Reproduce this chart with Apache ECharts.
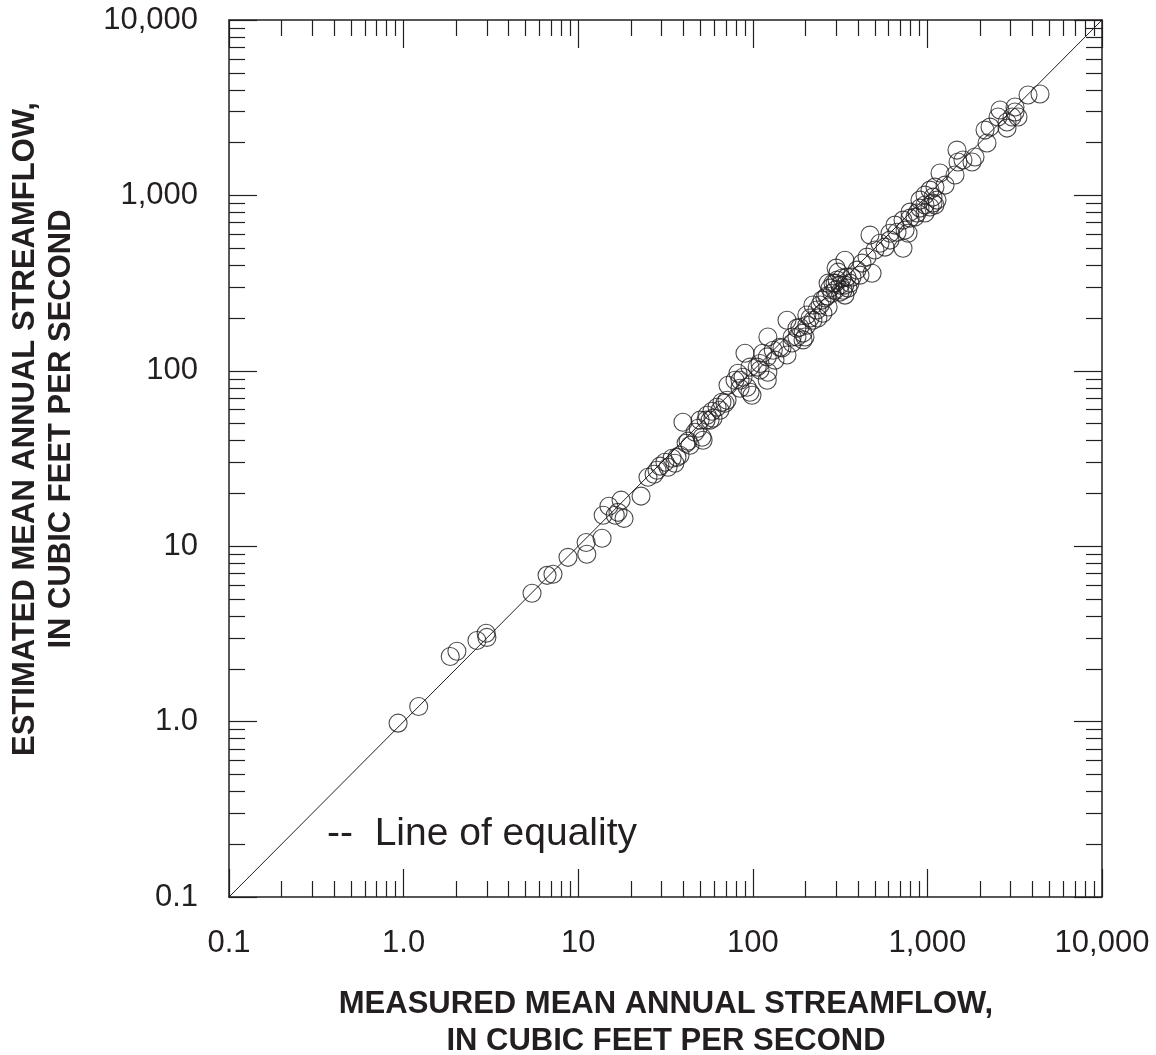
<!DOCTYPE html>
<html>
<head>
<meta charset="utf-8">
<script src="https://cdn.jsdelivr.net/npm/echarts@6/dist/echarts.min.js"></script>
<style>
  html, body { margin: 0; padding: 0; background: #ffffff; }
  #chart { width: 1156px; height: 1055px; }
</style>
</head>
<body>
<div id="chart"></div>
<script>
// Measured (x) and estimated (y) mean annual streamflow, cubic feet per second
var measured = [
  0.93, 1.22, 1.85, 2.02, 2.63, 2.97, 3.0, 5.44, 6.63, 7.17,
  8.74, 11.1, 11.2, 13.7, 13.9, 15.0, 16.3, 17.6, 18.3, 16.9,
  22.9, 25.1, 27.2, 28.3, 31.4, 32.7, 34.5, 35.8, 36.8, 39.8,
  41.5, 42.6, 43.7, 46.7, 49.9, 51.2, 51.9, 54.7, 56.9, 58.4,
  62.4, 64.9, 66.6, 71.2, 69.3, 72.1, 79.1, 82.3, 87.9, 84.5,
  92.6, 96.4, 98.9, 90.2, 96.4, 110, 114, 121, 122, 122,
  106, 121, 131, 134, 143, 147, 157, 157, 168, 168,
  179, 179, 194, 194, 204, 186, 199, 204, 221, 221,
  233, 249, 252, 270, 284, 288, 304, 316, 329, 308,
  337, 346, 360, 370, 395, 422, 451, 482, 469, 501,
  535, 572, 611, 611, 670, 725, 745, 775, 725, 795,
  795, 849, 872, 907, 969, 969, 1035, 1035, 1077, 1077,
  1135, 1105, 1181, 1439, 1477, 1497, 1599, 1801, 1874, 2195,
  2138, 2284, 2538, 2605, 2858, 2858, 3053, 3175, 3175, 3303,
  3769, 4416, 277, 296, 324, 266, 337, 300, 213, 236,
  48.6, 59.2, 29.4, 38.3, 259, 351, 411, 652, 907, 1262,
  296, 316, 270, 337, 243, 1105, 969, 84.5, 110, 54
];
var estimated = [
  0.98, 1.22, 2.35, 2.52, 2.9, 3.19, 3.02, 5.39, 6.82, 6.92,
  8.64, 10.5, 9.0, 11.1, 15.0, 16.9, 15.0, 18.3, 14.4, 15.6,
  19.3, 24.7, 25.7, 27.1, 30.1, 28.2, 31.7, 29.7, 32.1, 50.9,
  38.6, 39.7, 37.6, 44.6, 52.3, 41.8, 40.2, 55.8, 52.3, 58.8,
  62.0, 59.6, 66.2, 68.0, 65.3, 82.8, 88.4, 96.9, 91.9, 79.6,
  80.6, 75.5, 72.6, 126, 105, 110, 126, 88.4, 98.2, 156,
  105, 120, 131, 115, 136, 135, 123, 194, 144, 156,
  175, 156, 150, 164, 182, 177, 156, 208, 194, 237,
  222, 253, 213, 231, 277, 316, 329, 308, 288, 365,
  427, 342, 316, 342, 375, 411, 445, 360, 594, 488,
  534, 507, 556, 609, 617, 500, 634, 609, 723, 742,
  803, 752, 793, 846, 793, 1004, 858, 1072, 904, 978,
  940, 1115, 1341, 1306, 1813, 1549, 1590, 1549, 1654, 1988,
  2357, 2452, 2798, 3067, 2420, 2619, 2798, 2987, 3189, 2798,
  3734, 3784, 296, 288, 337, 267, 270, 385, 200, 200,
  47.0, 53.7, 28.6, 33.0, 260, 296, 351, 677, 940, 1145,
  316, 281, 316, 308, 237, 881, 881, 88.4, 101, 52.3
];
// Line of equality end points
var equalityLine = [0.1, 10000];
// Major tick values and their labels
var majorTicks = [0.1, 1, 10, 100, 1000, 10000];
var tickLabels = ['0.1', '1.0', '10', '100', '1,000', '10,000'];
// Minor (log) ticks 2..9 in each decade
var minorMultipliers = [2, 3, 4, 5, 6, 7, 8, 9];
var decades = [0.1, 1, 10, 100, 1000];

var xTitle = 'MEASURED MEAN ANNUAL STREAMFLOW,\nIN CUBIC FEET PER SECOND';
var yTitle = 'ESTIMATED MEAN ANNUAL STREAMFLOW,\nIN CUBIC FEET PER SECOND';
var legendText = '--  Line of equality';

var minorTicks = [];
decades.forEach(function (d) {
  minorMultipliers.forEach(function (m) { minorTicks.push(+(d * m).toPrecision(6)); });
});

var INK = '#231f20';
var FONT = '"Liberation Sans", Arial, Helvetica, sans-serif';

function labelFor(v) {
  for (var i = 0; i < majorTicks.length; i++) {
    if (Math.abs(Math.log10(v) - Math.log10(majorTicks[i])) < 1e-6) return tickLabels[i];
  }
  return '';
}

function makeAxis(dim, position, major, showLabel, showLine) {
  return {
    type: 'log',
    logBase: 10,
    min: 0.1,
    max: 10000,
    position: position,
    gridIndex: 0,
    splitLine: { show: false },
    minorTick: { show: false },
    minorSplitLine: { show: false },
    axisLine: { show: showLine, onZero: false, lineStyle: { color: INK, width: 1.5 } },
    axisTick: {
      show: true,
      inside: true,
      length: major ? 28 : 16,
      customValues: major ? majorTicks : minorTicks,
      lineStyle: { color: INK, width: 1.2 }
    },
    axisLabel: {
      show: showLabel,
      customValues: majorTicks,
      formatter: function (v) { return labelFor(v); },
      color: INK,
      fontFamily: FONT,
      fontSize: 31,
      margin: dim === 'x' ? 31 : 31
    },
    z: 5
  };
}

var xAxes = [
  makeAxis('x', 'bottom', true, true, true),
  makeAxis('x', 'bottom', false, false, false),
  makeAxis('x', 'top', true, false, true),
  makeAxis('x', 'top', false, false, false)
];
var yAxes = [
  makeAxis('y', 'left', true, true, true),
  makeAxis('y', 'left', false, false, false),
  makeAxis('y', 'right', true, false, true),
  makeAxis('y', 'right', false, false, false)
];

var points = measured.map(function (m, i) { return [m, estimated[i]]; });

var chart = echarts.init(document.getElementById('chart'), null, { renderer: 'canvas' });
chart.setOption({
  animation: false,
  backgroundColor: '#ffffff',
  grid: { left: 229, top: 20, width: 873, height: 877, containLabel: false, outerBoundsMode: 'none' },
  xAxis: xAxes,
  yAxis: yAxes,
  graphic: [
    {
      type: 'text',
      x: 666,
      y: 1023,
      style: {
        text: xTitle,
        fill: INK,
        font: 'bold 31px ' + FONT,
        lineHeight: 37,
        textAlign: 'center',
        textVerticalAlign: 'middle'
      }
    },
    {
      type: 'text',
      x: 43,
      y: 429,
      rotation: Math.PI / 2,
      style: {
        text: yTitle,
        fill: INK,
        font: 'bold 31px ' + FONT,
        lineHeight: 36,
        textAlign: 'center',
        textVerticalAlign: 'middle'
      }
    },
    {
      type: 'text',
      x: 327,
      y: 834,
      style: {
        text: legendText,
        fill: INK,
        font: '39px ' + FONT,
        textAlign: 'left',
        textVerticalAlign: 'middle'
      }
    }
  ],
  series: [
    {
      type: 'line',
      xAxisIndex: 0,
      yAxisIndex: 0,
      data: [[equalityLine[0], equalityLine[0]], [equalityLine[1], equalityLine[1]]],
      showSymbol: false,
      symbol: 'none',
      lineStyle: { color: INK, width: 1 },
      silent: true,
      z: 2
    },
    {
      type: 'scatter',
      xAxisIndex: 0,
      yAxisIndex: 0,
      data: points,
      symbol: 'circle',
      symbolSize: 18,
      itemStyle: { color: 'rgba(0,0,0,0)', borderColor: INK, borderWidth: 1.1 },
      emphasis: { disabled: true },
      silent: true,
      z: 3
    }
  ]
});
</script>
</body>
</html>
